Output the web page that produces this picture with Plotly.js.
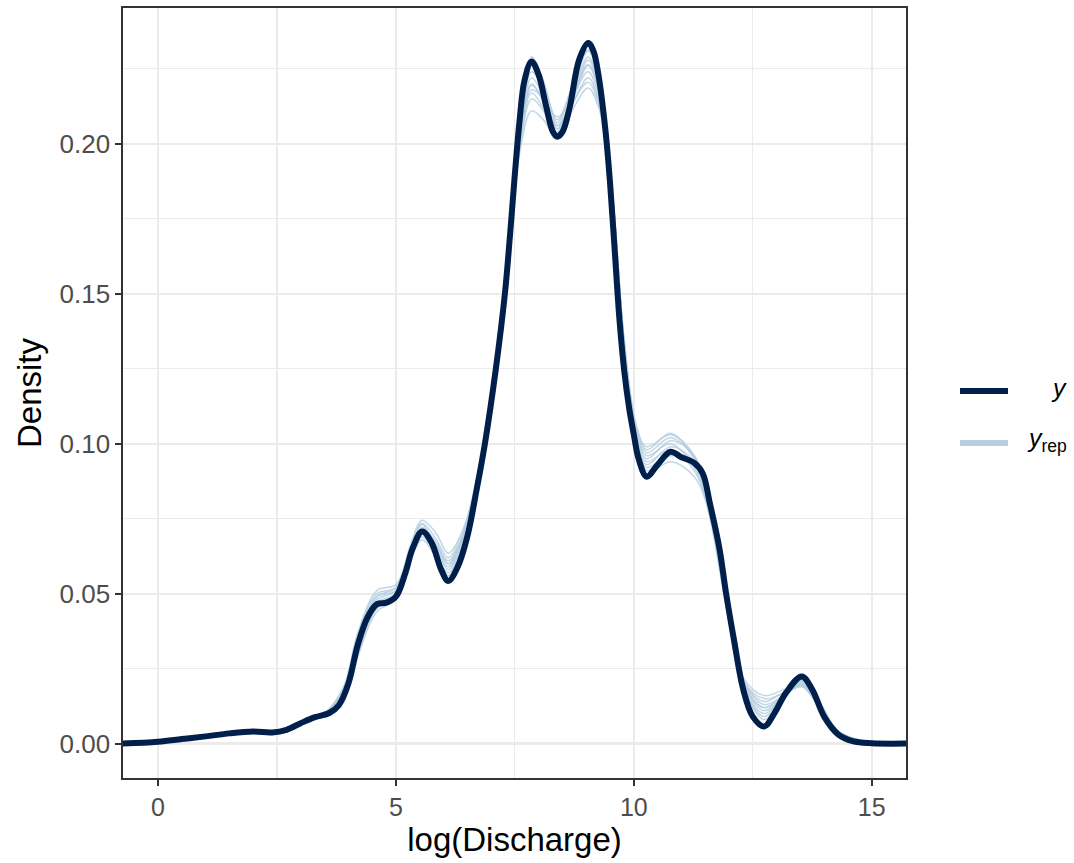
<!DOCTYPE html>
<html>
<head>
<meta charset="utf-8">
<script src="https://cdn.plot.ly/plotly-3.0.1.min.js"></script>
<style>html,body{margin:0;padding:0;background:#fff;}#chart{width:1074px;height:863px;}</style>
</head>
<body>
<div id="chart"></div>
<script>
// observed density (y)
const obsX = [-0.74, 0, 0.5, 1, 1.5, 2, 2.4, 2.7, 3.0, 3.3, 3.6, 3.8, 4.0, 4.2, 4.4, 4.6, 4.8, 5.0, 5.2, 5.35, 5.55, 5.75, 5.95, 6.1, 6.3, 6.5, 6.7, 6.87, 7.1, 7.29, 7.4, 7.5, 7.6, 7.7, 7.85, 8.0, 8.15, 8.3, 8.39, 8.5, 8.65, 8.85, 9.04, 9.15, 9.25, 9.4, 9.5, 9.6, 9.7, 9.8, 9.9, 10.0, 10.1, 10.27, 10.5, 10.77, 11.0, 11.27, 11.45, 11.6, 11.8, 11.94, 12.1, 12.3, 12.5, 12.74, 12.95, 13.2, 13.53, 13.75, 14.0, 14.3, 14.6, 15.0, 15.72];
const obsY = [0, 0.0006, 0.0015, 0.0024, 0.0034, 0.0040, 0.0037, 0.0046, 0.0068, 0.0088, 0.0102, 0.0128, 0.020, 0.033, 0.042, 0.0465, 0.047, 0.049, 0.057, 0.065, 0.0707, 0.067, 0.058, 0.0542, 0.059, 0.069, 0.085, 0.100, 0.125, 0.150, 0.170, 0.190, 0.208, 0.221, 0.2275, 0.223, 0.213, 0.204, 0.2024, 0.204, 0.212, 0.228, 0.2336, 0.231, 0.2236, 0.205, 0.187, 0.164, 0.141, 0.124, 0.112, 0.103, 0.095, 0.089, 0.093, 0.0973, 0.0955, 0.0936, 0.090, 0.080, 0.065, 0.050, 0.035, 0.018, 0.009, 0.0057, 0.010, 0.017, 0.0224, 0.018, 0.009, 0.003, 0.0008, 0.0001, 0];

// replicated densities (y_rep)
const repX = [-0.74, 0, 1, 2, 2.4, 3.0, 3.5, 3.9, 4.2, 4.6, 5.0, 5.3, 5.55, 5.85, 6.1, 6.4, 6.75, 7.1, 7.4, 7.6, 7.85, 8.1, 8.39, 8.7, 9.04, 9.3, 9.55, 9.8, 10.05, 10.27, 10.77, 11.27, 11.6, 11.95, 12.3, 12.74, 13.15, 13.53, 13.9, 14.3, 15.0, 15.72];
const rep1 = [0, 0.0007, 0.0026, 0.0042, 0.0034, 0.0065, 0.0100, 0.018, 0.036, 0.049, 0.052, 0.066, 0.0745, 0.070, 0.0635, 0.071, 0.092, 0.124, 0.166, 0.205, 0.229, 0.221, 0.207, 0.218, 0.231, 0.219, 0.184, 0.134, 0.106, 0.098, 0.1035, 0.095, 0.078, 0.045, 0.020, 0.012, 0.016, 0.020, 0.013, 0.004, 0.0002, 0];
const rep2 = [0, 0.0005, 0.0022, 0.0038, 0.0035, 0.0070, 0.0098, 0.015, 0.031, 0.046, 0.050, 0.063, 0.072, 0.067, 0.060, 0.068, 0.090, 0.126, 0.168, 0.203, 0.224, 0.218, 0.205, 0.215, 0.228, 0.216, 0.182, 0.131, 0.103, 0.095, 0.101, 0.096, 0.077, 0.046, 0.021, 0.014, 0.017, 0.019, 0.012, 0.004, 0.0002, 0];
const rep3 = [0, 0.0008, 0.0027, 0.0036, 0.0033, 0.0066, 0.0102, 0.019, 0.037, 0.051, 0.053, 0.065, 0.073, 0.065, 0.058, 0.067, 0.091, 0.127, 0.167, 0.201, 0.220, 0.214, 0.204, 0.214, 0.226, 0.215, 0.183, 0.133, 0.102, 0.093, 0.099, 0.094, 0.076, 0.046, 0.019, 0.010, 0.016, 0.021, 0.014, 0.004, 0.0002, 0];
const rep4 = [0, 0.0006, 0.0023, 0.0041, 0.0036, 0.0069, 0.0095, 0.014, 0.029, 0.044, 0.048, 0.061, 0.069, 0.063, 0.057, 0.066, 0.090, 0.128, 0.170, 0.202, 0.218, 0.215, 0.206, 0.215, 0.224, 0.213, 0.181, 0.132, 0.101, 0.092, 0.097, 0.093, 0.075, 0.045, 0.022, 0.016, 0.018, 0.0195, 0.013, 0.004, 0.0002, 0];
const rep5 = [0, 0.0007, 0.0025, 0.0039, 0.0030, 0.0064, 0.0099, 0.017, 0.034, 0.048, 0.051, 0.064, 0.071, 0.066, 0.061, 0.069, 0.092, 0.126, 0.166, 0.198, 0.215, 0.211, 0.203, 0.216, 0.229, 0.218, 0.184, 0.133, 0.104, 0.096, 0.100, 0.092, 0.077, 0.047, 0.020, 0.011, 0.016, 0.0205, 0.013, 0.0035, 0.0002, 0];
const rep6 = [0, 0.0006, 0.0024, 0.0037, 0.0032, 0.0067, 0.0101, 0.017, 0.034, 0.047, 0.050, 0.061, 0.068, 0.062, 0.056, 0.066, 0.091, 0.128, 0.169, 0.197, 0.211, 0.208, 0.202, 0.211, 0.2186, 0.210, 0.180, 0.131, 0.099, 0.090, 0.094, 0.089, 0.076, 0.046, 0.019, 0.009, 0.016, 0.0215, 0.014, 0.004, 0.0002, 0];
const rep7 = [0, 0.0006, 0.0025, 0.0041, 0.0036, 0.0067, 0.0098, 0.018, 0.036, 0.050, 0.052, 0.065, 0.0735, 0.068, 0.062, 0.070, 0.092, 0.125, 0.167, 0.204, 0.226, 0.220, 0.208, 0.219, 0.2314, 0.219, 0.184, 0.134, 0.105, 0.097, 0.102, 0.095, 0.078, 0.046, 0.021, 0.013, 0.016, 0.019, 0.012, 0.004, 0.0002, 0];
const rep8 = [0, 0.0005, 0.0023, 0.0039, 0.0035, 0.0068, 0.0096, 0.015, 0.030, 0.045, 0.049, 0.062, 0.070, 0.065, 0.059, 0.068, 0.091, 0.127, 0.169, 0.202, 0.222, 0.216, 0.206, 0.213, 0.222, 0.212, 0.181, 0.132, 0.102, 0.094, 0.098, 0.091, 0.076, 0.047, 0.021, 0.015, 0.017, 0.020, 0.013, 0.004, 0.0002, 0];
const rep9 = [0, 0.0007, 0.0026, 0.0040, 0.0033, 0.0066, 0.0100, 0.018, 0.035, 0.049, 0.051, 0.064, 0.072, 0.064, 0.055, 0.066, 0.091, 0.127, 0.168, 0.200, 0.217, 0.212, 0.205, 0.215, 0.2265, 0.215, 0.182, 0.132, 0.101, 0.091, 0.096, 0.094, 0.077, 0.046, 0.019, 0.008, 0.015, 0.021, 0.014, 0.004, 0.0002, 0];
const rep10 = [0, 0.0006, 0.0024, 0.0038, 0.0034, 0.0069, 0.0097, 0.016, 0.032, 0.046, 0.050, 0.063, 0.0705, 0.066, 0.060, 0.069, 0.091, 0.126, 0.168, 0.200, 0.2195, 0.215, 0.209, 0.214, 0.2205, 0.211, 0.181, 0.133, 0.106, 0.099, 0.103, 0.096, 0.077, 0.046, 0.020, 0.012, 0.016, 0.0195, 0.013, 0.004, 0.0002, 0];
const replicates = [rep1, rep2, rep3, rep4, rep5, rep6, rep7, rep8, rep9, rep10];

const xTicks = [0, 5, 10, 15];
const yTicks = [0, 0.05, 0.10, 0.15, 0.20];
const yTickText = ['0.00', '0.05', '0.10', '0.15', '0.20'];

const DARK = '#011f4b';
const LIGHT = 'rgba(179,205,224,0.8)';
const FONT = 'Liberation Sans, Arial, Helvetica, sans-serif';

const traces = replicates.map(function (r, i) {
  return {
    x: repX, y: r, type: 'scatter', mode: 'lines',
    name: 'y_rep', showlegend: false, hoverinfo: 'skip',
    line: {color: LIGHT, width: 1.5, shape: 'spline', smoothing: 1}
  };
});
traces.push({
  x: obsX, y: obsY, type: 'scatter', mode: 'lines', name: 'y', showlegend: false,
  line: {color: DARK, width: 6, shape: 'spline', smoothing: 1}
});

const L = 123, R = 168, T = 8, B = 85;
const PW = 1074 - L - R, PH = 863 - T - B;
function px2x(p) { return (p - L) / PW; }
function py2y(p) { return (863 - B - p) / PH; }

const layout = {
  width: 1074, height: 863,
  margin: {l: L, r: R, t: T, b: B, pad: 0},
  paper_bgcolor: '#ffffff', plot_bgcolor: '#ffffff',
  font: {family: FONT, color: '#4d4d4d'},
  showlegend: false,
  xaxis: {
    range: [-0.736, 15.72], tickvals: xTicks, ticktext: xTicks.map(String),
    showgrid: true, gridcolor: '#ebebeb', gridwidth: 2.2,
    minor: {tickvals: [2.5, 7.5, 12.5], showgrid: true, gridcolor: '#ebebeb', gridwidth: 1.1, ticks: ''},
    zeroline: false, showline: true, mirror: true, linecolor: '#333333', linewidth: 1.6,
    ticks: 'outside', ticklen: 6, tickwidth: 2, tickcolor: '#333333',
    tickfont: {size: 25, color: '#4d4d4d', family: FONT},
    title: {text: 'log(Discharge)', font: {size: 33, color: '#000000', family: FONT}, standoff: 6}
  },
  yaxis: {
    range: [-0.01148, 0.2453], tickvals: yTicks, ticktext: yTickText,
    showgrid: true, gridcolor: '#ebebeb', gridwidth: 2.2,
    minor: {tickvals: [0.025, 0.075, 0.125, 0.175, 0.225], showgrid: true, gridcolor: '#ebebeb', gridwidth: 1.1, ticks: ''},
    zeroline: false, showline: true, mirror: true, linecolor: '#333333', linewidth: 1.6,
    ticks: 'outside', ticklen: 6, tickwidth: 2, tickcolor: '#333333',
    tickfont: {size: 26, color: '#4d4d4d', family: FONT},
    title: {text: 'Density', font: {size: 33, color: '#000000', family: FONT}, standoff: 8}
  },
  shapes: [
    {type: 'line', xref: 'paper', yref: 'paper', x0: px2x(960), x1: px2x(1008), y0: py2y(391), y1: py2y(391),
     line: {color: DARK, width: 6}},
    {type: 'line', xref: 'paper', yref: 'paper', x0: px2x(960), x1: px2x(1008), y0: py2y(443), y1: py2y(443),
     line: {color: '#b7cfe2', width: 6}}
  ],
  annotations: [
    {xref: 'paper', yref: 'paper', x: px2x(1069), y: py2y(388), xanchor: 'right', yanchor: 'middle',
     text: '<i>y</i>', showarrow: false, font: {size: 25, color: '#000000', family: FONT}},
    {xref: 'paper', yref: 'paper', x: px2x(1069), y: py2y(440), xanchor: 'right', yanchor: 'middle',
     text: '<i>y</i><sub>rep</sub>', showarrow: false, font: {size: 25, color: '#000000', family: FONT}}
  ]
};

Plotly.newPlot('chart', traces, layout, {displayModeBar: false, staticPlot: true});
</script>
</body>
</html>
